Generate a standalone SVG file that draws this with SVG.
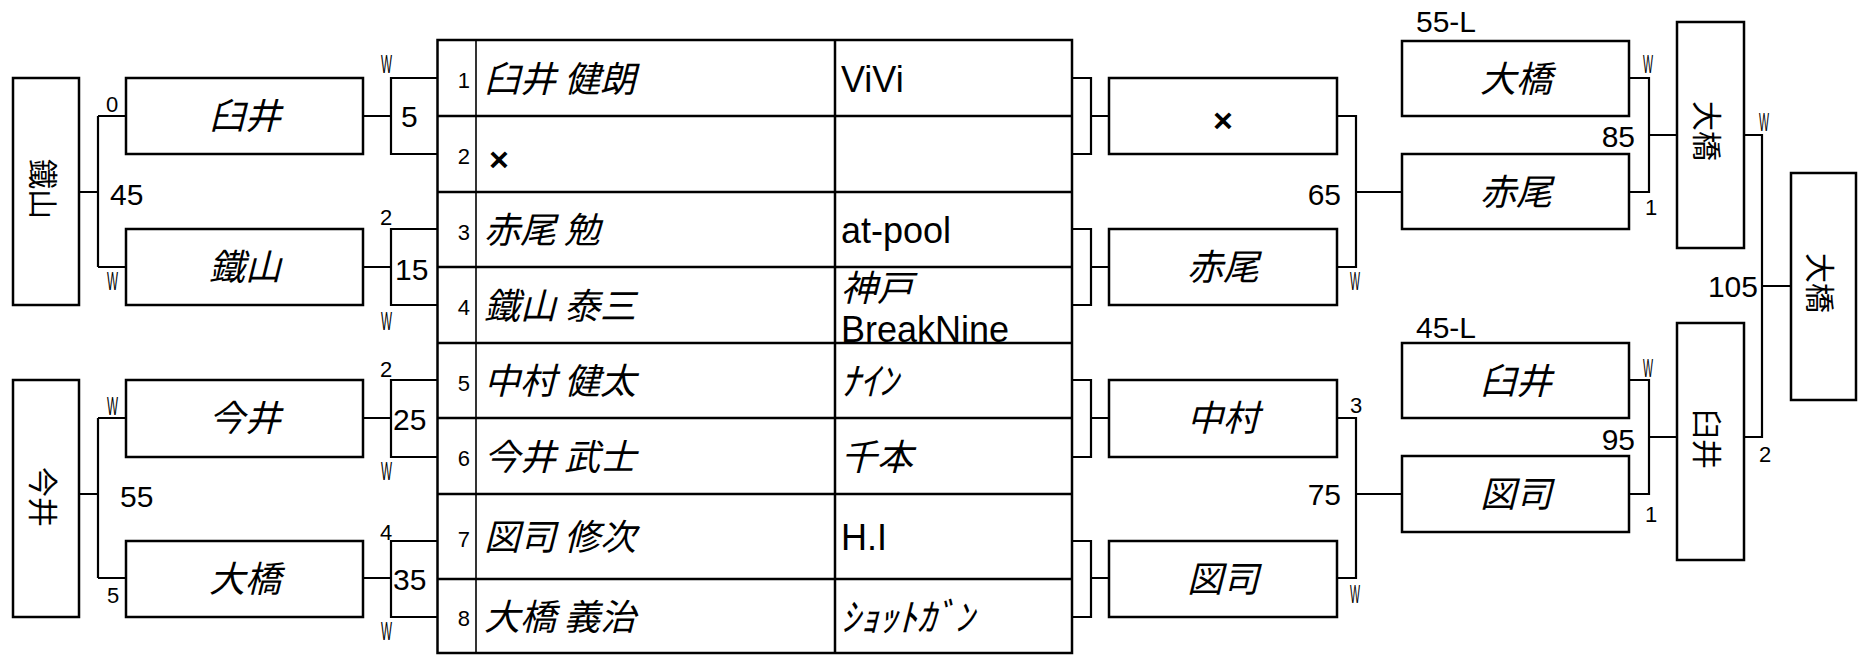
<svg xmlns="http://www.w3.org/2000/svg" width="1860" height="655" viewBox="0 0 1860 655">
<defs>
<style>
.box{fill:#fff;stroke:#000;stroke-width:2.5}
.ln{fill:none;stroke:#000;stroke-width:2.2}
.tl{fill:none;stroke:#000;stroke-width:2.5}
.thin{fill:none;stroke:#000;stroke-width:1.6}
.jp{font-family:"Noto Sans CJK JP",sans-serif;font-style:italic;font-size:36px;fill:#000}
.hk{font-size:38px}
.bx{text-anchor:middle}
.lat{font-family:"Liberation Sans",Arial,sans-serif;font-size:36px;fill:#000}
.x{font-family:"Liberation Sans",Arial,sans-serif;font-weight:bold;font-size:34px;fill:#000}
.num{font-family:"Liberation Sans",Arial,sans-serif;font-size:30px;fill:#000}
.rn{font-family:"Liberation Sans",Arial,sans-serif;font-size:22px;fill:#000;text-anchor:end}
.sm{font-family:"Liberation Sans",Arial,sans-serif;font-size:22px;fill:#000}
.w{font-family:"Liberation Sans",Arial,sans-serif;font-size:25px;fill:#000}
.vt{font-family:"Noto Sans CJK JP",sans-serif;font-size:30px;fill:#000;text-anchor:middle;dominant-baseline:central}
.end{text-anchor:end}
</style>
</defs>
<rect width="1860" height="655" fill="#fff"/>

<g id="connectors">
<path class="ln" d="M79,192H98M98,116V267M98,116H126M98,267H126"/>
<path class="ln" d="M79,494H98M98,418V578M98,418H126M98,578H126"/>
<path class="ln" d="M363,116H391M437,78H391V154H437"/>
<path class="ln" d="M363,267H391M437,229H391V305H437"/>
<path class="ln" d="M363,418H391M437,380H391V457H437"/>
<path class="ln" d="M363,578H391M437,541H391V617H437"/>
<path class="ln" d="M1072,78H1091V154H1072M1091,116H1109"/>
<path class="ln" d="M1072,229H1091V305H1072M1091,267H1109"/>
<path class="ln" d="M1072,380H1091V457H1072M1091,418H1109"/>
<path class="ln" d="M1072,541H1091V617H1072M1091,578H1109"/>
<path class="ln" d="M1337,116H1356V267H1337M1356,192H1402"/>
<path class="ln" d="M1337,418H1356V578H1337M1356,494H1402"/>
<path class="ln" d="M1629,78H1649V192H1629M1649,135H1677"/>
<path class="ln" d="M1629,380H1649V494H1629M1649,437H1677"/>
<path class="ln" d="M1744,135H1762V437H1744M1762,286H1791"/>
</g>

<g id="labels">
<text class="sm" x="106" y="112">0</text>
<text class="w" x="107" y="290" textLength="11" lengthAdjust="spacingAndGlyphs">W</text>
<text class="num" x="110" y="205">45</text>
<text class="w" x="107" y="415" textLength="11" lengthAdjust="spacingAndGlyphs">W</text>
<text class="num" x="120" y="507">55</text>
<text class="sm" x="107" y="603">5</text>
<text class="w" x="381" y="73" textLength="11" lengthAdjust="spacingAndGlyphs">W</text>
<text class="num" x="401" y="127">5</text>
<text class="sm" x="380" y="225">2</text>
<text class="num" x="395" y="280">15</text>
<text class="w" x="381" y="330" textLength="11" lengthAdjust="spacingAndGlyphs">W</text>
<text class="sm" x="380" y="377">2</text>
<text class="num" x="393" y="430">25</text>
<text class="w" x="381" y="480" textLength="11" lengthAdjust="spacingAndGlyphs">W</text>
<text class="sm" x="380" y="540">4</text>
<text class="num" x="393" y="590">35</text>
<text class="w" x="381" y="640" textLength="11" lengthAdjust="spacingAndGlyphs">W</text>
<text class="w" x="1350" y="290" textLength="10" lengthAdjust="spacingAndGlyphs">W</text>
<text class="num end" x="1341" y="205">65</text>
<text class="sm" x="1350" y="413">3</text>
<text class="num end" x="1341" y="505">75</text>
<text class="w" x="1350" y="603" textLength="10" lengthAdjust="spacingAndGlyphs">W</text>
<text class="num" x="1416" y="32">55-L</text>
<text class="w" x="1643" y="73" textLength="10" lengthAdjust="spacingAndGlyphs">W</text>
<text class="num end" x="1635" y="147">85</text>
<text class="sm" x="1645" y="215">1</text>
<text class="num" x="1416" y="338">45-L</text>
<text class="w" x="1643" y="377" textLength="10" lengthAdjust="spacingAndGlyphs">W</text>
<text class="num end" x="1635" y="450">95</text>
<text class="sm" x="1645" y="522">1</text>
<text class="w" x="1759" y="131" textLength="10" lengthAdjust="spacingAndGlyphs">W</text>
<text class="num end" x="1758" y="297">105</text>
<text class="sm" x="1759" y="462">2</text>
</g>

<g id="node-left-final-tetsuyama">
<rect class="box" x="13" y="78" width="66" height="227"/>
<text class="vt" transform="translate(45,189) rotate(90)">鐵山</text>
</g>
<g id="node-left-final-imai">
<rect class="box" x="13" y="380" width="66" height="237"/>
<text class="vt" transform="translate(45,497) rotate(90)">今井</text>
</g>

<g id="node-l1-usui">
<rect class="box" x="126" y="78" width="237" height="76"/>
<text class="jp bx" x="245" y="129">臼井</text>
</g>
<g id="node-l1-tetsuyama">
<rect class="box" x="126" y="229" width="237" height="76"/>
<text class="jp bx" x="245" y="280">鐵山</text>
</g>
<g id="node-l1-imai">
<rect class="box" x="126" y="380" width="237" height="77"/>
<text class="jp bx" x="245" y="431">今井</text>
</g>
<g id="node-l1-ohashi">
<rect class="box" x="126" y="541" width="237" height="76"/>
<text class="jp bx" x="245" y="592">大橋</text>
</g>

<g id="node-table">
<rect class="tl" x="437.5" y="40" width="634.5" height="613"/>
<path class="tl" d="M437.5,116H1072M437.5,192H1072M437.5,267H1072M437.5,343H1072M437.5,418H1072M437.5,494H1072M437.5,579H1072M835,40V653"/>
<path class="thin" d="M476,40V653"/>
<g id="row-1"><text class="rn" x="470" y="88">1</text><text class="jp" x="484" y="92">臼井 健朗</text><text class="lat" x="841" y="92">ViVi</text></g>
<g id="row-2"><text class="rn" x="470" y="164">2</text><text class="x" x="489" y="171">×</text></g>
<g id="row-3"><text class="rn" x="470" y="240">3</text><text class="jp" x="484" y="243">赤尾 勉</text><text class="lat" x="841" y="243">at-pool</text></g>
<g id="row-4"><text class="rn" x="470" y="315">4</text><text class="jp" x="484" y="319">鐵山 泰三</text><text class="jp" x="841" y="301">神戸</text><text class="lat" x="841" y="342">BreakNine</text></g>
<g id="row-5"><text class="rn" x="470" y="391">5</text><text class="jp" x="484" y="394">中村 健太</text><text class="jp hk" x="841" y="395">ﾅｲﾝ</text></g>
<g id="row-6"><text class="rn" x="470" y="466">6</text><text class="jp" x="484" y="470">今井 武士</text><text class="jp" x="841" y="470">千本</text></g>
<g id="row-7"><text class="rn" x="470" y="547">7</text><text class="jp" x="484" y="550">図司 修次</text><text class="lat" x="841" y="550">H.I</text></g>
<g id="row-8"><text class="rn" x="470" y="626">8</text><text class="jp" x="484" y="630">大橋 義治</text><text class="jp hk" x="841" y="631">ｼｮｯﾄｶﾞﾝ</text></g>
</g>

<g id="node-r1-bye">
<rect class="box" x="1109" y="78" width="228" height="76"/>
<text class="x bx" x="1223" y="132">×</text>
</g>
<g id="node-r1-akao">
<rect class="box" x="1109" y="229" width="228" height="76"/>
<text class="jp bx" x="1223" y="280">赤尾</text>
</g>
<g id="node-r1-nakamura">
<rect class="box" x="1109" y="380" width="228" height="77"/>
<text class="jp bx" x="1223" y="431">中村</text>
</g>
<g id="node-r1-zushi">
<rect class="box" x="1109" y="541" width="228" height="76"/>
<text class="jp bx" x="1223" y="592">図司</text>
</g>

<g id="node-r2-ohashi">
<rect class="box" x="1402" y="41" width="227" height="75"/>
<text class="jp bx" x="1516" y="92">大橋</text>
</g>
<g id="node-r2-akao">
<rect class="box" x="1402" y="154" width="227" height="75"/>
<text class="jp bx" x="1516" y="205">赤尾</text>
</g>
<g id="node-r2-usui">
<rect class="box" x="1402" y="343" width="227" height="75"/>
<text class="jp bx" x="1516" y="394">臼井</text>
</g>
<g id="node-r2-zushi">
<rect class="box" x="1402" y="456" width="227" height="76"/>
<text class="jp bx" x="1516" y="507">図司</text>
</g>

<g id="node-r3-ohashi">
<rect class="box" x="1677" y="22" width="67" height="226"/>
<text class="vt" transform="translate(1709,131) rotate(90)">大橋</text>
</g>
<g id="node-r3-usui">
<rect class="box" x="1677" y="323" width="67" height="237"/>
<text class="vt" transform="translate(1709,439) rotate(90)">臼井</text>
</g>
<g id="node-champion">
<rect class="box" x="1791" y="173" width="65" height="227"/>
<text class="vt" transform="translate(1822,283) rotate(90)">大橋</text>
</g>
</svg>
